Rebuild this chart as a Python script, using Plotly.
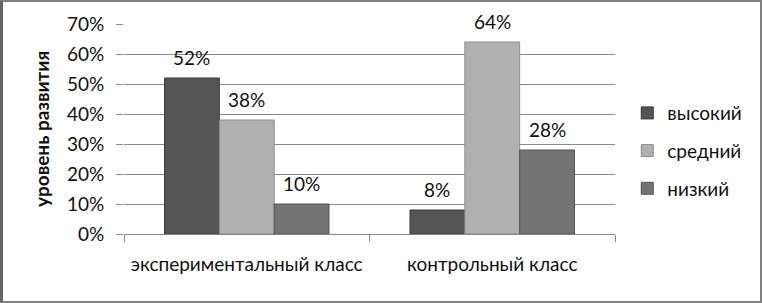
import plotly.graph_objects as go

categories = ["экспериментальный класс", "контрольный класс"]
series_names = ["высокий", "средний", "низкий"]
vysokiy = [52, 8]
sredniy = [38, 64]
nizkiy = [10, 28]
y_ticks = [0, 10, 20, 30, 40, 50, 60, 70]
y_tick_labels = ["0%", "10%", "20%", "30%", "40%", "50%", "60%", "70%"]

series_values = [vysokiy, sredniy, nizkiy]
colors = ["#555555", "#b0b0b0", "#737373"]
line_colors = ["#3a3a3a", "#8c8c8c", "#555555"]

FONT = "Lato"
L, R, T, B = 124, 147, 24, 69
WIDTH, HEIGHT = 762, 303
W = WIDTH - L - R
H = HEIGHT - T - B
BARGAP = 0.33

fig = go.Figure()
for name, vals, c, lc in zip(series_names, series_values, colors, line_colors):
    fig.add_trace(go.Bar(
        name=name, x=categories, y=vals,
        marker=dict(color=c, line=dict(color=lc, width=1)),
        legendgroup=name,
    ))

# data labels above bars
cat_w = W / len(categories)
bar_w = cat_w * (1 - BARGAP) / len(series_names)
annotations = []
for i, vals in enumerate(series_values):
    for cat, v in zip(categories, vals):
        annotations.append(dict(
            x=cat, y=v, xref="x", yref="y", text=f"{v}%",
            showarrow=False, yanchor="bottom",
            xshift=(i - 1) * bar_w, yshift=7,
            font=dict(family=FONT, size=19, color="#111111"),
        ))

shapes = [
    dict(type="rect", xref="paper", yref="paper",
         x0=(1 - L) / W, x1=(WIDTH - 1 - L) / W,
         y0=-(B - 1) / H, y1=1 + (T - 1) / H,
         line=dict(color="#808080", width=2), fillcolor="rgba(0,0,0,0)", layer="below"),
    dict(type="line", xref="paper", yref="paper",
         x0=(1.5 - L) / W, x1=(1.5 - L) / W,
         y0=-(B - 1) / H, y1=1 + (T - 1) / H,
         line=dict(color="#666666", width=3)),
]

fig.update_layout(
    width=WIDTH, height=HEIGHT,
    margin=dict(l=L, r=R, t=T, b=B),
    paper_bgcolor="white", plot_bgcolor="white",
    barmode="group", bargap=BARGAP, bargroupgap=0,
    font=dict(family=FONT, size=18, color="#111111"),
    legend=dict(x=1.025, y=0.395, xanchor="left", yanchor="middle",
                font=dict(family=FONT, size=19, color="#111111"),
                traceorder="grouped", tracegroupgap=10,
                itemwidth=30),
    annotations=annotations,
    shapes=shapes,
    xaxis=dict(
        showline=True, linecolor="#888888", linewidth=1,
        ticks="outside", tickson="boundaries", ticklen=7, tickcolor="#888888",
        ticklabelstandoff=13,
        tickfont=dict(family=FONT, size=19, color="#111111"),
    ),
    yaxis=dict(
        range=[0, 70], tickvals=y_ticks, ticktext=y_tick_labels,
        showgrid=True, gridcolor="#8a8a8a", gridwidth=1,
        ticks="outside", ticklen=7, tickcolor="#8a8a8a",
        ticklabelstandoff=8,
        zeroline=False, showline=False,
        tickfont=dict(family=FONT, size=19, color="#111111"),
        title=dict(text="<b>уровень развития</b>", standoff=12,
                   font=dict(family=FONT, size=19, color="#111111")),
    ),
)

fig.write_html("out.html")
